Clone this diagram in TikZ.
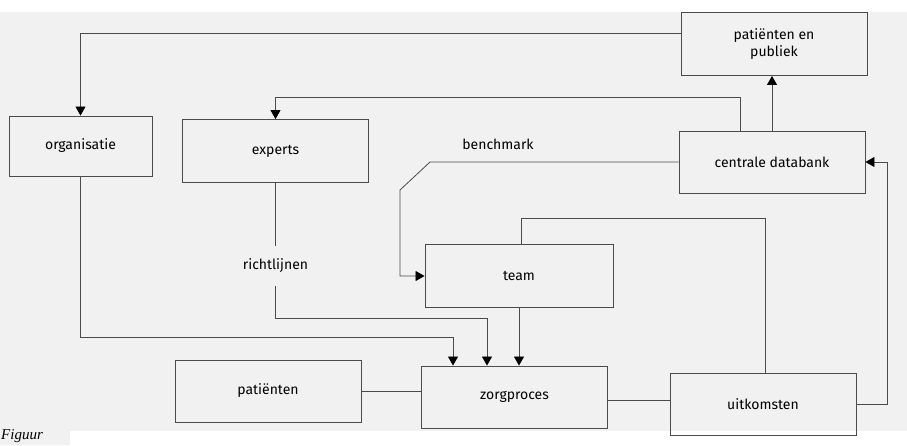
\documentclass[tikz,border=0pt]{standalone}
\usepackage{fontspec}
\setmainfont{Fira Sans}
\newfontfamily\figserif{Liberation Serif}
\usetikzlibrary{arrows.meta}
\definecolor{paper}{RGB}{241,241,241}
\definecolor{ink}{RGB}{75,75,75}
\begin{document}
\begin{tikzpicture}[x=1pt,y=-1pt,
  box/.style={draw=ink, line width=0.9pt, minimum width=186pt, minimum height=62pt,
    font=\fontsize{14}{17}\selectfont, align=center, inner sep=0pt},
  conn/.style={draw=ink, line width=0.8pt},
  arr/.style={conn, -{Triangle[length=9pt,width=10pt,color=black]}},
  lbl/.style={font=\fontsize{14}{17}\selectfont, inner sep=0pt}]
\useasboundingbox (0,0) rectangle (907,445);
\clip (0,0) rectangle (907,445);
% paper
\fill[white] (0,0) rectangle (907,445);
\fill[paper] (0,12) rectangle (907,431);
\fill[paper] (0,431) rectangle (70,445);
\node[anchor=base west, inner sep=0pt, font=\figserif\itshape\fontsize{15}{15}\selectfont] (fig) at (1,439) {Figuur};
% boxes
\node[box, minimum width=143pt, minimum height=60pt] (org) at (80.5,146) {organisatie};
\node[box, minimum height=63pt] (exp) at (275.5,151) {experts};
\node[box, minimum height=63pt] (pub) at (774,44) {patiënten en\\publiek};
\node[box] (db) at (772,162) {centrale databank};
\node[box, minimum width=188pt, minimum height=63pt] (team) at (519,276) {team};
\node[box] (zorg) at (514.5,397) {zorgproces};
\node[box] (pat) at (268,391) {patiënten};
\node[box] (uit) at (763,404) {uitkomsten};
% labels
\node[lbl] (bm) at (498,144) {benchmark};
\node[lbl, minimum height=40pt] (rl) at (275.5,266) {richtlijnen};
% helper coordinates
\coordinate (tl) at (80.5,33);
\coordinate (dbx) at (740,97);
\coordinate (b1) at (430,162);
\coordinate (b2) at (400,190);
\coordinate (za) at (453,337);
\coordinate (zb) at (487,318);
\coordinate (ut) at (521,218);
\coordinate (ua) at (765,218);
\coordinate (r1) at (887,300);
\coordinate (m) at (600,400);
% connectors
\draw[arr] (pub.west |- tl) -- (tl) -- (org.north);
\draw[arr] (db.north -| dbx) -- (dbx) -| (exp.north);
\draw[arr] (db.north) -- (db.north |- pub.south);
\draw[arr] (db.west) -- (b1) -- (b2) |- (team.west);
\draw[arr] (org.south) |- (za) -- (za |- zorg.north);
\draw[conn] (exp.south) -- (rl.north);
\draw[arr] (rl.south) |- (zb) -- (zb |- zorg.north);
\draw[arr] (team.south) -- (team.south |- zorg.north);
\draw[conn] (uit.north -| ua) -- (ua) -- (ut) -- (ut |- team.north);
\draw[arr] (uit.east) -| (r1 |- db.east) -- (db.east);
\draw[conn] (pat.east) -- (zorg.west |- pat.east);
\draw[conn] (zorg.east |- m) -- (uit.west |- m);
\end{tikzpicture}
\end{document}
